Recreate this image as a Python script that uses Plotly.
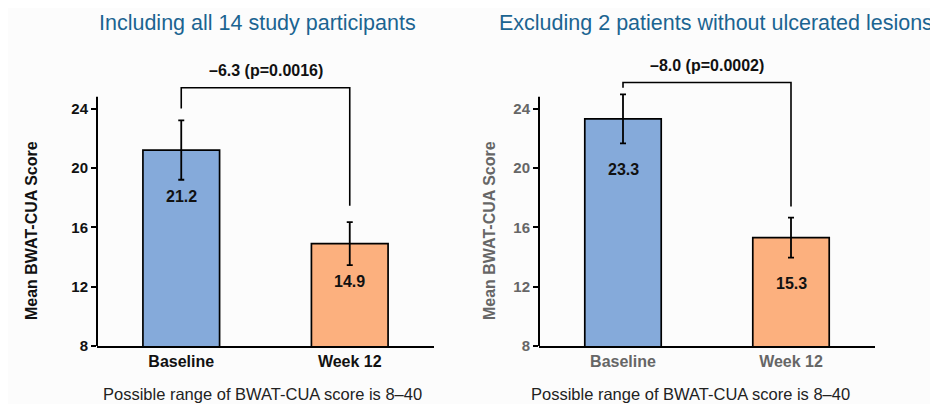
import plotly.graph_objects as go

# ---- data ----
categories = ["Baseline", "Week 12"]
left_means = [21.2, 14.9]
left_errs = [2.0, 1.45]
right_means = [23.3, 15.3]
right_errs = [1.65, 1.35]
left_diff_label = "\u20136.3 (p=0.0016)"
right_diff_label = "\u20138.0 (p=0.0002)"
left_title = "Including all 14 study participants"
right_title = "Excluding 2 patients without ulcerated lesions"
footnote = "Possible range of BWAT-CUA score is 8\u201340"
y_title = "Mean BWAT-CUA Score"
tick_vals = [8, 12, 16, 20, 24]
# bracket: [left leg end, top, right leg end]
left_bracket = [24.0, 25.4, 17.45]
right_bracket = [25.4, 25.75, 17.4]

bar_colors = ["#85aada", "#fcb07e"]
title_color = "#1b6491"
FONT = "Liberation Sans, Arial, sans-serif"

# page layout helpers (body margin offset, vertical capture scale)
W, H = 930, 404
OX, OY = 8, 8
S = 0.9806


def px(x):
    return (x - OX) / W


def py(y):
    return 1 - (y / S - OY) / H


fig = go.Figure()

panels = [
    dict(x="x", y="y", means=left_means, errs=left_errs, label=left_diff_label,
         bracket=left_bracket, dom=[px(97), px(434)], tickcol="#111111", lab_off=1.1,
         ytx=31),
    dict(x="x2", y="y2", means=right_means, errs=right_errs, label=right_diff_label,
         bracket=right_bracket, dom=[px(539), px(875)], tickcol="#666666", lab_off=1.75,
         ytx=489),
]

yrange = [8, 27]
ydom = [py(346), py(346 - 19 * 14.85)]

for i, p in enumerate(panels):
    fig.add_trace(go.Bar(
        x=[0, 1], y=p["means"], xaxis=p["x"], yaxis=p["y"],
        width=0.455,
        marker=dict(color=bar_colors, line=dict(color="black", width=1.7)),
        error_y=dict(type="data", array=p["errs"], color="black", thickness=1.8, width=3),
        showlegend=False, hoverinfo="skip",
    ))
    b = p["bracket"]
    fig.add_trace(go.Scatter(
        x=[0, 0, 1, 1], y=[b[0], b[1], b[1], b[2]], xaxis=p["x"], yaxis=p["y"],
        mode="lines", line=dict(color="black", width=1.6),
        showlegend=False, hoverinfo="skip",
    ))
    for j, (m, e) in enumerate(zip(p["means"], p["errs"])):
        fig.add_annotation(x=j, y=m - e - p["lab_off"], xref=p["x"], yref=p["y"],
                           text=f"<b>{m:.1f}</b>", showarrow=False,
                           font=dict(family=FONT, size=16, color="#111111"))
    fig.add_annotation(x=0.5, y=b[1], xref=p["x"], yref=p["y"], yshift=17,
                       text=f"<b>{p['label']}</b>", showarrow=False,
                       font=dict(family=FONT, size=16, color="#111111"))
    fig.add_shape(type="line", xref="paper", yref=p["y"], x0=p["dom"][0], x1=p["dom"][0],
                  y0=8, y1=24.8, line=dict(color="black", width=2))
    # y-axis title
    fig.add_annotation(x=px(p["ytx"]), y=py(231), xref="paper", yref="paper",
                       xanchor="center", yanchor="middle", textangle=-90,
                       text=f"<b>{y_title}</b>", showarrow=False,
                       font=dict(family=FONT, size=16, color=p["tickcol"]))

    suffix = "" if i == 0 else "2"
    fig.update_layout(**{
        "xaxis" + suffix: dict(
            domain=p["dom"], range=[-0.5, 1.5], tickvals=[0, 1],
            ticktext=[f"<b>{c}</b>" for c in categories],
            showline=True, linecolor="black", linewidth=2, ticks="",
            showgrid=False, zeroline=False, anchor=p["y"],
            tickfont=dict(family=FONT, size=16, color=p["tickcol"]),
        ),
        "yaxis" + suffix: dict(
            domain=ydom, range=yrange, tickvals=tick_vals,
            ticktext=[f"<b>{t}</b>" for t in tick_vals],
            showline=False, ticks="outside", ticklen=5, tickwidth=2, tickcolor="black",
            showgrid=False, zeroline=False, anchor=p["x"],
            tickfont=dict(family=FONT, size=15, color=p["tickcol"]),
        ),
    })

fig.add_annotation(x=px(257), y=py(23), xref="paper", yref="paper",
                   xanchor="center", yanchor="middle",
                   text=left_title, showarrow=False,
                   font=dict(family=FONT, size=21.5, color=title_color))
fig.add_annotation(x=px(497), y=py(23), xref="paper", yref="paper",
                   xanchor="left", yanchor="middle",
                   text=right_title, showarrow=False,
                   font=dict(family=FONT, size=21.5, color=title_color))
for cx in [262, 690]:
    fig.add_annotation(x=px(cx), y=py(394), xref="paper", yref="paper",
                       xanchor="center", yanchor="middle",
                       text=footnote, showarrow=False,
                       font=dict(family=FONT, size=16.5, color="#222222"))

fig.update_layout(
    width=W, height=H, margin=dict(l=0, r=0, t=0, b=0),
    paper_bgcolor="#fcfcfc", plot_bgcolor="rgba(0,0,0,0)",
)

fig.write_html("out.html")
